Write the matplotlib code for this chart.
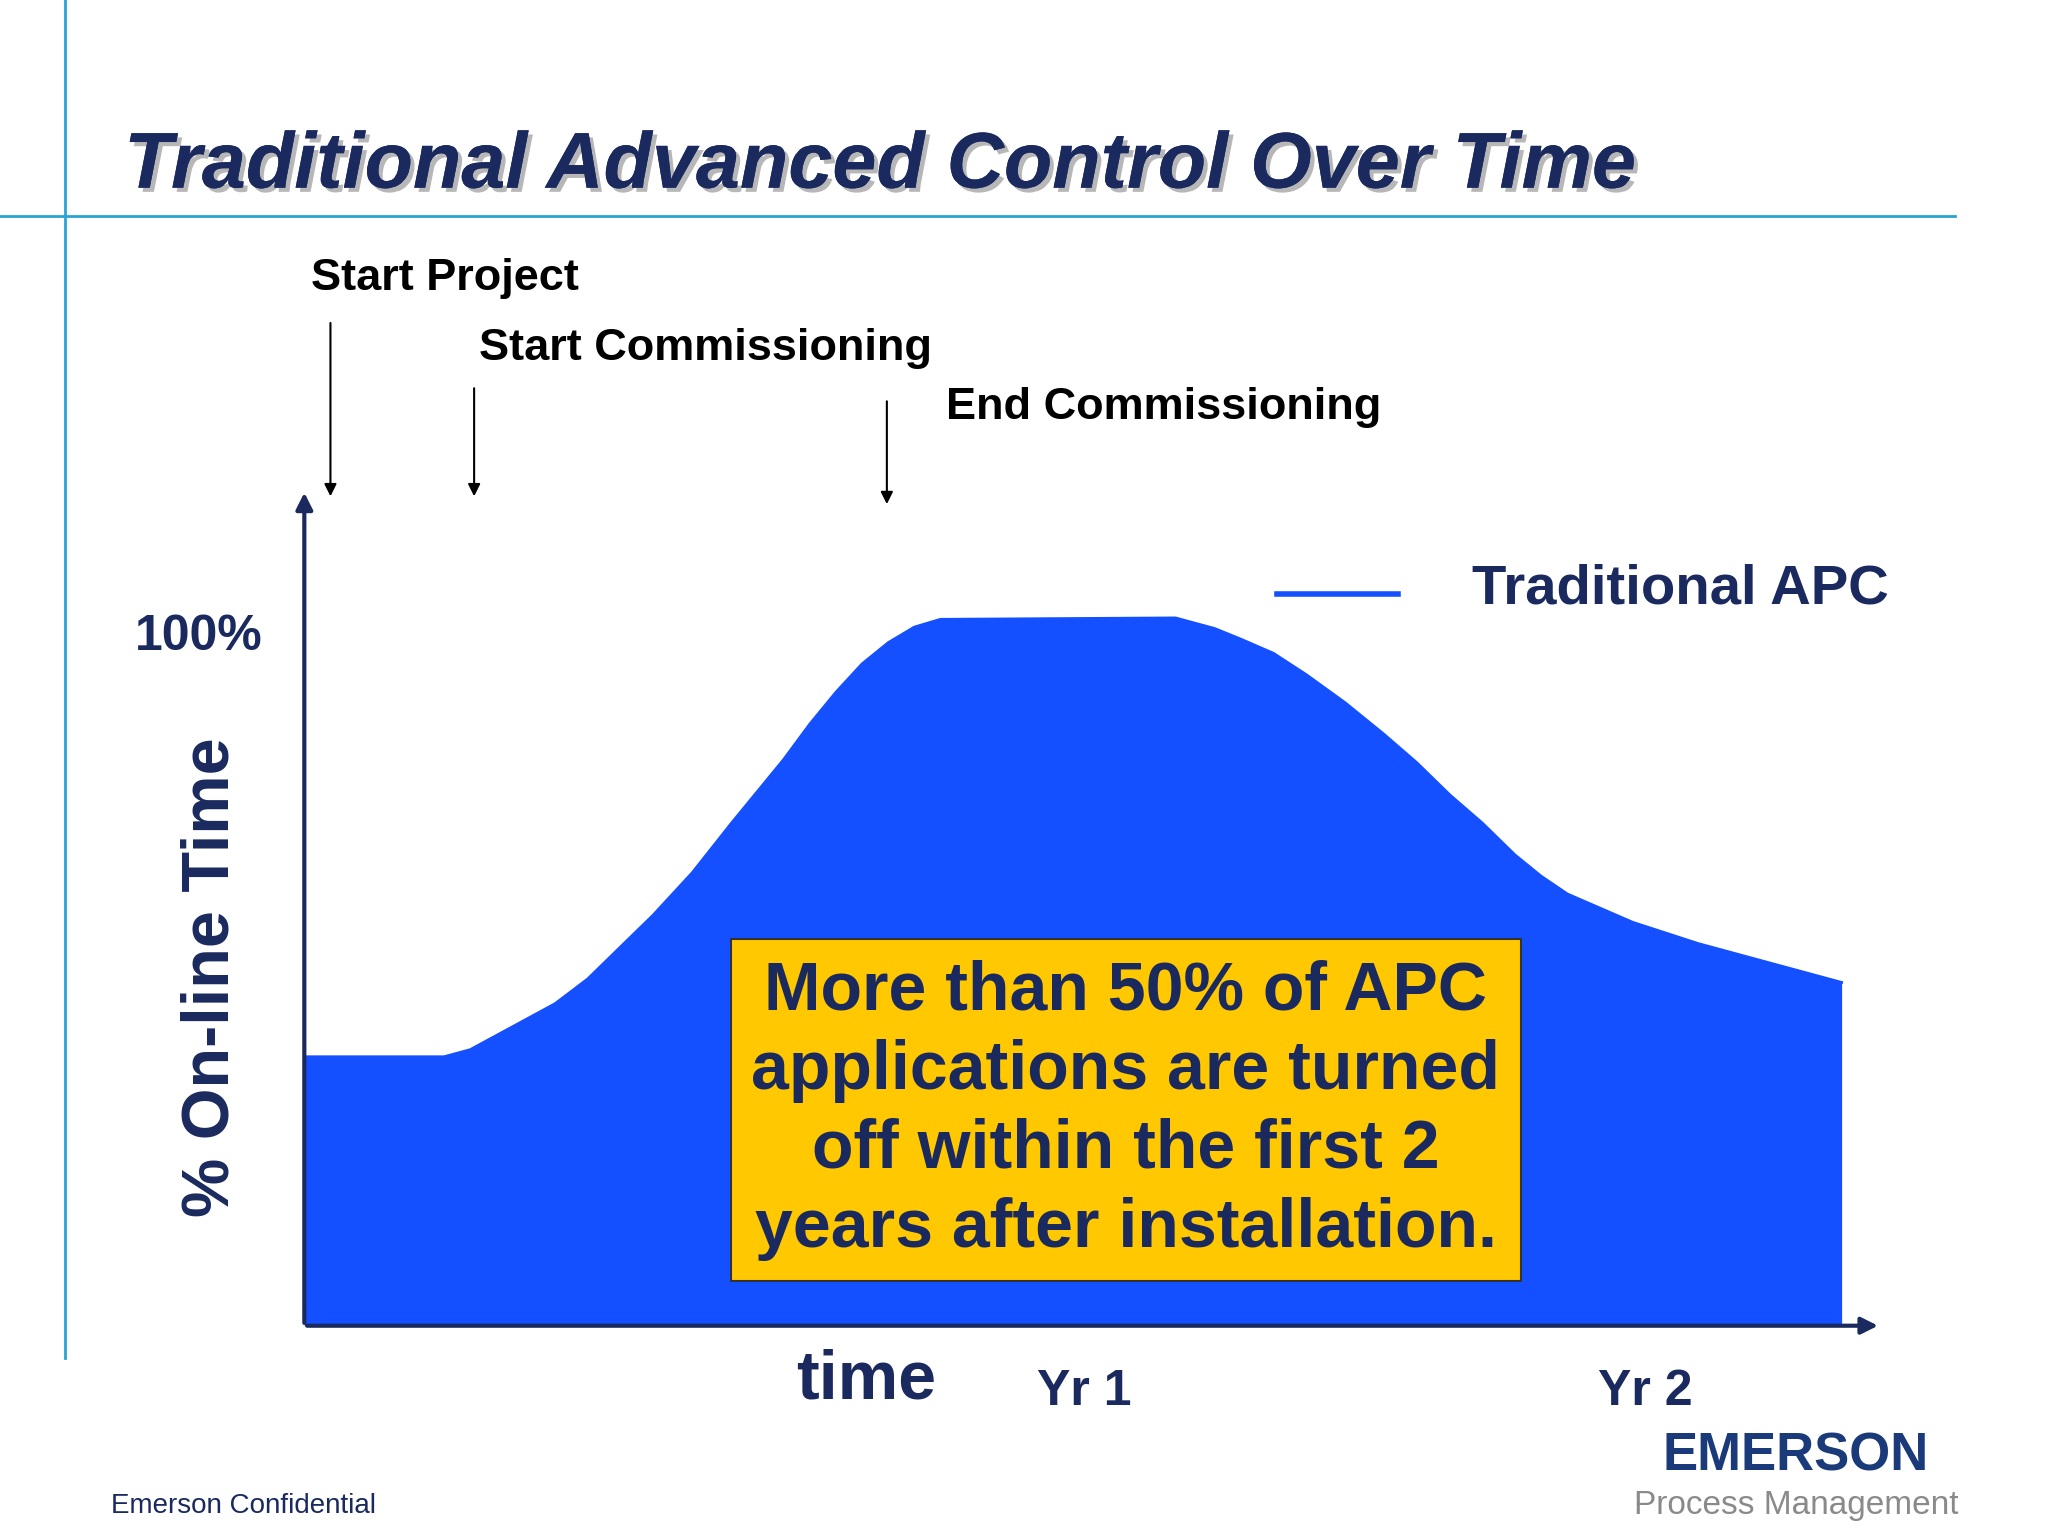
import matplotlib.pyplot as plt
import matplotlib.patheffects as pe

# curve: time (arbitrary units from origin) vs % on-line time
t = [0, 107, 127, 147, 167, 192, 217, 242, 267, 297, 327, 347, 367, 387, 407, 427, 447, 467, 487,
     667, 697, 717, 742, 767, 797, 827, 852, 877, 902, 927, 947, 967, 992, 1017, 1067, 1127, 1177]
online = [38, 38, 39, 41, 43, 45.5, 49, 53.5, 58, 64, 71, 75.5, 80, 85, 89.5, 93.5, 96.5, 98.7, 99.8,
          100, 98.5, 97, 95, 92, 88, 83.5, 79.5, 75, 71, 66.5, 63.5, 61, 59, 57, 54, 51, 48.5]
events = ["Start Project", "Start Commissioning", "End Commissioning"]
event_t = [20, 130, 446]
year_labels = ["Yr 1", "Yr 2"]
year_t = [597, 1027]

W, H = 1568, 1176
def fx(px): return px / W
def fy(py): return 1 - py / H

plt.rcParams['font.family'] = ['Liberation Sans', 'DejaVu Sans']
fig = plt.figure(figsize=(20.48, 15.36), dpi=100)
navy = '#1a2a5e'
blue = '#1450ff'

# slide decorations
fig.add_artist(plt.Line2D([fx(50), fx(50)], [fy(0), fy(1040)], color='#29a3d6', lw=2))
fig.add_artist(plt.Line2D([fx(0), fx(1497)], [fy(165), fy(165)], color='#29a3d6', lw=2))
fig.text(fx(95), fy(128), "Traditional Advanced Control Over Time", fontsize=57, fontweight='bold',
         style='italic', color=navy, va='center',
         path_effects=[pe.withSimplePatchShadow(offset=(3, -3), shadow_rgbFace='#999999', alpha=0.7), pe.Normal()])

ax = fig.add_axes([fx(233), fy(1015), fx(1440) - fx(233), fy(375) - fy(1015)])
ax.set_xlim(0, 1207)
ax.set_ylim(0, 118.1)
ax.fill_between(t, online, color=blue, lw=0)
ax.plot(t, online, color=blue, lw=2)
for s in ax.spines.values():
    s.set_visible(False)
ax.set_xticks([]); ax.set_yticks([])
ax.patch.set_alpha(0)
ax.annotate('', xy=(1207, 0), xytext=(0, 0), annotation_clip=False,
            arrowprops=dict(arrowstyle='-|>', color=navy, lw=3, mutation_scale=25))
ax.annotate('', xy=(0, 118.1), xytext=(0, 0), annotation_clip=False,
            arrowprops=dict(arrowstyle='-|>', color=navy, lw=3, mutation_scale=25))

# event arrows
text_y = [213, 267, 312]
arrow_top = [245, 295, 305]
arrow_bot = [382, 382, 388]
text_x = [238, 367, 724]
for i, name in enumerate(events):
    fig.text(fx(text_x[i]), fy(text_y[i]), name, fontsize=32.5, fontweight='bold', va='center')
    ax.annotate('', xy=(event_t[i], (1015 - arrow_bot[i]) / 542 * 100),
                xytext=(event_t[i], (1015 - arrow_top[i]) / 542 * 100), annotation_clip=False,
                arrowprops=dict(arrowstyle='-|>', color='black', lw=1.5, mutation_scale=18))

fig.text(fx(152), fy(488), "100%", fontsize=36, fontweight='bold', color=navy, ha='center', va='center')
fig.text(fx(162), fy(748), "% On-line Time", fontsize=48, fontweight='bold', color=navy,
         rotation=90, ha='center', va='center')
fig.text(fx(663), fy(1057), "time", fontsize=49, fontweight='bold', color=navy, ha='center', va='center')
for lab, xv in zip(year_labels, year_t):
    fig.text(fx(233 + xv), fy(1066), lab, fontsize=36, fontweight='bold', color=navy, ha='center', va='center')

# legend
fig.add_artist(plt.Line2D([fx(978), fx(1070)], [fy(455), fy(455)], color=blue, lw=4))
fig.text(fx(1127), fy(451), "Traditional APC", fontsize=40.5, fontweight='bold', color=navy, va='center')

# callout box
fig.text(fx(862), fy(850), "More than 50% of APC\napplications are turned\noff within the first 2\nyears after installation.",
         fontsize=49, fontweight='bold', color=navy, ha='center', va='center', linespacing=1.3,
         bbox=dict(boxstyle='square,pad=0.3', fc='#ffc800', ec='#333333', lw=1.5))

fig.text(fx(85), fy(1153), "Emerson Confidential", fontsize=20, color=navy, va='center')
fig.text(fx(1375), fy(1115), "EMERSON", fontsize=38, fontweight='bold', color='#1a3a7a', ha='center', va='center')
fig.text(fx(1375), fy(1153), "Process Management", fontsize=24, color='#8a8a8a', ha='center', va='center')

fig.savefig('out.png', dpi=100)
